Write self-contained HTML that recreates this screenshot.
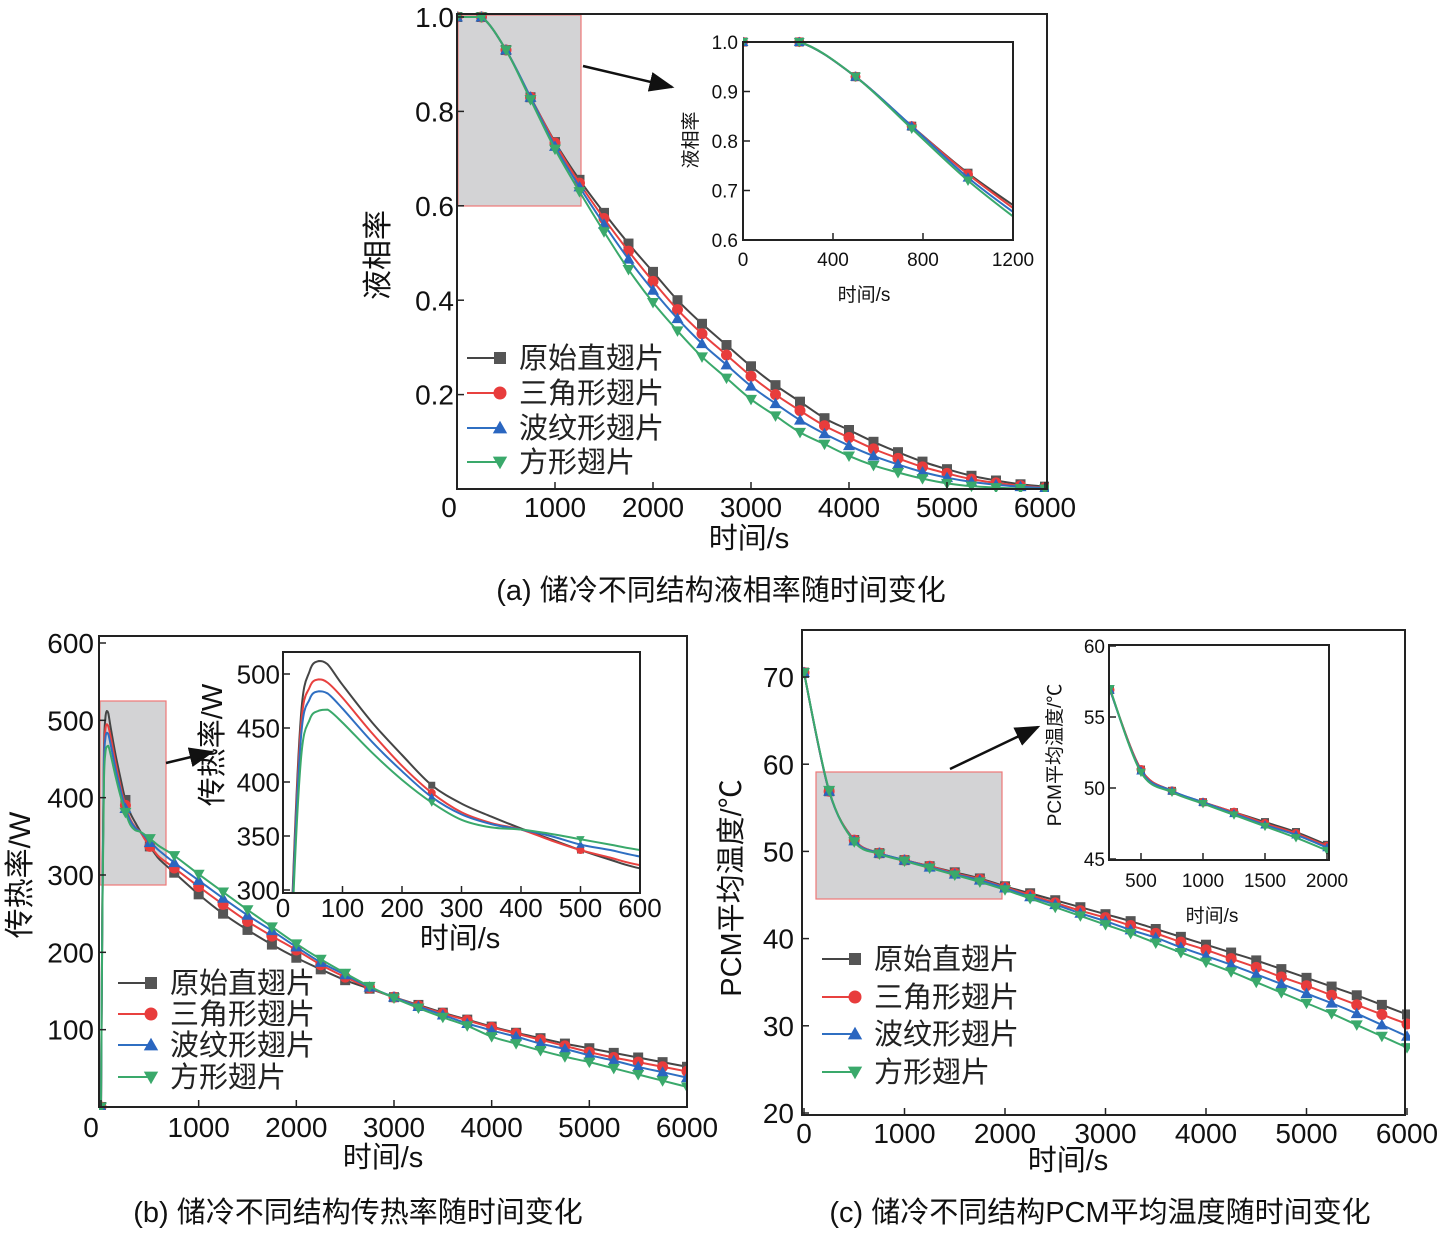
<!DOCTYPE html>
<html><head><meta charset="utf-8">
<style>
html,body{margin:0;padding:0;background:#fff;}
svg{display:block;font-family:"Liberation Sans","Noto Sans CJK SC",sans-serif;}
</style></head>
<body>
<svg id="fig" width="1446" height="1239" viewBox="0 0 1446 1239" xmlns="http://www.w3.org/2000/svg">
<defs>
<clipPath id="clipA"><rect x="457" y="10" width="592" height="482"/></clipPath>
<clipPath id="clipAi"><rect x="743" y="30" width="270" height="211"/></clipPath>
<clipPath id="clipB"><rect x="99" y="630" width="589" height="480"/></clipPath>
<clipPath id="clipBi"><rect x="283" y="652" width="357" height="241"/></clipPath>
<clipPath id="clipC"><rect x="803" y="630" width="607" height="486"/></clipPath>
<clipPath id="clipCi"><rect x="1110" y="645" width="219" height="215"/></clipPath>
<marker id="ah" markerWidth="10" markerHeight="8" refX="9" refY="4" orient="auto"><path d="M0,0 L10,4 L0,8 Z" fill="#111"/></marker>
</defs>
</svg>
<script>
// ---------- Chart (a): liquid fraction ----------
const aTimes=[0,250,500,750,1000,1250,1500,1750,2000,2250,2500,2750,3000,3250,3500,3750,4000,4250,4500,4750,5000,5250,5500,5750,6000];
const aBlack=[1,1,.93,.83,.735,.655,.585,.52,.46,.40,.35,.305,.26,.22,.185,.15,.125,.10,.078,.058,.042,.028,.018,.01,.005];
const aRed=[1,1,.93,.83,.733,.648,.573,.504,.44,.38,.329,.284,.239,.20,.166,.134,.109,.085,.065,.047,.033,.021,.013,.007,.003];
const aBlue=[1,1,.93,.83,.726,.64,.561,.487,.421,.361,.308,.263,.218,.181,.146,.117,.092,.07,.052,.036,.024,.015,.009,.005,.002];
const aGreen=[1,1,.93,.825,.72,.63,.545,.465,.395,.335,.28,.235,.19,.155,.12,.095,.07,.05,.035,.022,.012,.006,.003,.001,0];
const aXTicks=[0,1000,2000,3000,4000,5000,6000];
const aYTicks=[0.2,0.4,0.6,0.8,1.0];
const aiXTicks=[0,400,800,1200];
const aiYTicks=[0.6,0.7,0.8,0.9,1.0];
// ---------- Chart (b): heat transfer rate ----------
const bTimes=[0,15,30,45,60,75,100,150,200,250,300,350,400,450,500,550,600,750,1000,1250,1500,1750,2000,2250,2500,2750,3000,3250,3500,3750,4000,4250,4500,4750,5000,5250,5500,5750,6000];
const bBlack=[0,280,460,503,512,509,490,455,425,397,380,368,357,347,337,328,320,303,275,250,229,210,193,178,164,153,142,132,122,113,104,96,89,82,76,70,64,58,52];
const bRed=[0,275,450,488,495,492,478,445,415,390,372,362,356,346,337,330,323,309,285,262,240,221,203,184,168,154,142,131,121,112,103,95,87,79,71,64,58,52,46];
const bBlue=[0,270,440,477,484,482,468,437,410,386,370,361,356,350,342,337,331,316,293,270,248,228,207,187,171,155,142,130,119,108,99,91,82,75,67,60,52,45,38];
const bGreen=[0,260,420,458,466,467,455,427,402,381,365,358,356,352,347,342,337,325,301,278,255,233,211,191,173,156,141,128,116,105,91,82,73,65,58,50,42,34,26];
const bXTicks=[0,1000,2000,3000,4000,5000,6000];
const bYTicks=[100,200,300,400,500,600];
const biXTicks=[0,100,200,300,400,500,600];
const biYTicks=[300,350,400,450,500];
// ---------- Chart (c): PCM mean temperature ----------
const cTimes=[0,250,500,750,1000,1250,1500,1750,2000,2250,2500,2750,3000,3250,3500,3750,4000,4250,4500,4750,5000,5250,5500,5750,6000];
const cBlack=[70.5,56.9,51.3,49.8,49.0,48.3,47.6,46.9,46.0,45.2,44.4,43.6,42.8,42.0,41.1,40.2,39.3,38.4,37.5,36.5,35.5,34.5,33.5,32.4,31.3];
const cRed=[70.5,56.9,51.3,49.8,49.0,48.3,47.5,46.8,45.9,45.0,44.1,43.2,42.4,41.5,40.6,39.6,38.7,37.7,36.7,35.6,34.6,33.5,32.4,31.3,30.2];
const cBlue=[70.5,56.9,51.2,49.8,49.0,48.2,47.4,46.7,45.8,44.8,43.9,42.9,42.0,41.0,40.1,39.0,38.0,37.0,35.9,34.8,33.7,32.6,31.4,30.1,28.8];
const cGreen=[70.5,57.0,51.1,49.7,48.9,48.1,47.3,46.5,45.6,44.6,43.6,42.6,41.6,40.6,39.5,38.4,37.3,36.2,35.0,33.8,32.6,31.4,30.1,28.8,27.5];
const cXTicks=[0,1000,2000,3000,4000,5000,6000];
const cYTicks=[20,30,40,50,60,70];
const ciXTicks=[500,1000,1500,2000];
const ciYTicks=[45,50,55,60];

const legendNames=['原始直翅片','三角形翅片','波纹形翅片','方形翅片'];
const COLORS=['#454545','#e8413f','#2f6fc2','#3aa96b'];
const MCOL=['#555','#e83c3c','#2a66c0','#3aa96b'];
const KEYS=['black','red','blue','green'];
const SHAPES=['square','circle','up','down'];
const NS='http://www.w3.org/2000/svg';
const svg=document.getElementById('fig');

function el(tag,attrs,parent){const e=document.createElementNS(NS,tag);for(const k in attrs)e.setAttribute(k,attrs[k]);(parent||svg).appendChild(e);return e;}
function txt(s,attrs,parent){const e=el('text',attrs,parent);e.textContent=s;return e;}
function scale(d0,d1,r0,r1){return v=>r0+(v-d0)*(r1-r0)/(d1-d0);}
function clampY(v,a,b){const lo=Math.min(a,b),hi=Math.max(a,b);return Math.max(lo,Math.min(hi,v));}
function smoothPath(pts){
  let d='M'+pts[0][0].toFixed(2)+','+pts[0][1].toFixed(2);
  for(let i=0;i<pts.length-1;i++){
    const p0=pts[i-1]||pts[i],p1=pts[i],p2=pts[i+1],p3=pts[i+2]||p2;
    const c1=[p1[0]+(p2[0]-p0[0])/6,clampY(p1[1]+(p2[1]-p0[1])/6,p1[1],p2[1])];
    const c2=[p2[0]-(p3[0]-p1[0])/6,clampY(p2[1]-(p3[1]-p1[1])/6,p1[1],p2[1])];
    d+=' C'+c1[0].toFixed(2)+','+c1[1].toFixed(2)+' '+c2[0].toFixed(2)+','+c2[1].toFixed(2)+' '+p2[0].toFixed(2)+','+p2[1].toFixed(2);
  }
  return d;
}
function drawMarker(g,shape,x,y,s,col){
  let m;
  if(shape==='square')m=el('rect',{x:x-s/2,y:y-s/2,width:s,height:s,fill:col},g);
  else if(shape==='circle')m=el('circle',{cx:x,cy:y,r:s/2+0.5,fill:col},g);
  else if(shape==='up')m=el('path',{d:`M${x},${y-s*0.6} L${x+s*0.6},${y+s*0.45} L${x-s*0.6},${y+s*0.45}Z`,fill:col},g);
  else m=el('path',{d:`M${x},${y+s*0.6} L${x+s*0.6},${y-s*0.45} L${x-s*0.6},${y-s*0.45}Z`,fill:col},g);
  return m;
}
function chart(c){
  const g=el('g',{});
  
  
  const X=scale(c.xd[0],c.xd[1],c.xr[0],c.xr[1]);
  const Y=scale(c.yd[0],c.yd[1],c.yr[0],c.yr[1]);
  if(c.bg){el('rect',{x:c.box[0],y:c.box[1],width:c.box[2]-c.box[0],height:c.box[3]-c.box[1],fill:'#fff'},g);}
  c.series.forEach((s,i)=>{
    const sg=el('g',{'clip-path':c.clip},g);
    
    
    const pts=[];
    c.t.forEach((t,j)=>{if(t>=c.tmin&&t<=c.tmax)pts.push([X(t),Y(s[j])]);});
    const p=el('path',{d:smoothPath(pts),fill:'none',stroke:COLORS[i],'stroke-width':c.lw},sg);
    
    
    c.t.forEach((t,j)=>{
      if(c.mk(t)&&t>=c.tmin&&t<=c.tmax){
        const m=drawMarker(sg,SHAPES[i],X(t),Y(s[j]),c.ms,MCOL[i]);
        
        
      }
    });
  });
  const bx=el('rect',{x:c.box[0],y:c.box[1],width:c.box[2]-c.box[0],height:c.box[3]-c.box[1],fill:'none',stroke:'#222','stroke-width':c.bw},g);
  
  
  const xa=el('g',{},g);
  
  
  c.xt.forEach(v=>{
    const x=X(v);
    el('line',{x1:x,x2:x,y1:c.box[3],y2:c.box[3]-c.tl,stroke:'#222','stroke-width':1.5},xa);
    const s=c.xfmt?c.xfmt(v):String(v);
    if(s==='')return;
    const t=txt(s,{x:x+(c.xoff||0),y:c.box[3]+c.xly,'font-size':c.fs,'text-anchor':'middle',fill:'#111'},xa);
    
    
  });
  const ya=el('g',{},g);
  
  
  c.yt.forEach(v=>{
    const y=Y(v);
    el('line',{x1:c.box[0],x2:c.box[0]+c.tl,y1:y,y2:y,stroke:'#222','stroke-width':1.5},ya);
    const t=txt(c.yfmt?c.yfmt(v):String(v),{x:c.box[0]-c.ylx,y:y+c.fs*0.36,'font-size':c.fs,'text-anchor':'end',fill:'#111'},ya);
    
    
  });
  return g;
}
function legend(name,x,ys,fs){
  const g=el('g',{});
  
  
  ys.forEach((y,i)=>{
    const e=el('g',{},g);
    
    
    el('line',{x1:x,x2:x+34,y1:y,y2:y,stroke:COLORS[i],'stroke-width':2},e);
    drawMarker(e,SHAPES[i],x+33,y,12,MCOL[i]);
    txt(legendNames[i],{x:x+52,y:y+10,'font-size':fs,fill:'#222'},e);
  });
}
function label(s,x,y,fs,rot,name){
  const a={x:x,y:y,'font-size':fs,'text-anchor':'middle',fill:'#111'};
  if(rot)a.transform=`rotate(-90 ${x} ${y})`;
  const t=txt(s,a);
  
  
}
const m250=t=>t%250===0;

// ===== (a) =====
(function(){const r=el('rect',{x:458,y:15,width:123,height:191,fill:'#d3d3d5',stroke:'#e77','stroke-width':1.2});
})();
chart({name:'chart-a',xd:[0,6000],xr:[457,1045],yd:[0,1],yr:[489,17],box:[457,14,1047,489],
  t:aTimes,series:[aBlack,aRed,aBlue,aGreen],tmin:0,tmax:6000,mk:m250,ms:10,lw:2,bw:2,
  xt:aXTicks,xfmt:v=>v===0?'':String(v),yt:aYTicks,yfmt:v=>v.toFixed(1),fs:28,tl:7,xly:28,ylx:3,clip:'url(#clipA)'});
txt('0',{x:449,y:517,'font-size':28,'text-anchor':'middle',fill:'#111'});
const arA=el('line',{x1:583,y1:66,x2:672,y2:87,stroke:'#111','stroke-width':2.5,'marker-end':'url(#ah)'});

chart({name:'chart-a-inset',bg:true,xd:[0,1200],xr:[743,1013],yd:[0.6,1.0],yr:[240,42],box:[743,42,1013,240],
  t:aTimes,series:[aBlack,aRed,aBlue,aGreen],tmin:0,tmax:1250,mk:m250,ms:9,lw:2,bw:2,
  xt:aiXTicks,yt:aiYTicks,yfmt:v=>v.toFixed(1),fs:19,tl:7,xly:26,ylx:5,clip:'url(#clipAi)'});
legend('legend-a',467,[358,393,428,462],29);
label('液相率',388,255,30,true,'y-axis-title-a');
label('时间/s',749,548,29,false,'x-axis-title-a');
label('液相率',697,140,19,true,'inset-y-title-a');
label('时间/s',864,301,19,false,'inset-x-title-a');
label('(a) 储冷不同结构液相率随时间变化',721,600,29,false,'caption-a');

// ===== (b) =====
(function(){const r=el('rect',{x:100,y:701,width:66,height:184,fill:'#d3d3d5',stroke:'#e77','stroke-width':1.2});
})();
chart({name:'chart-b',xd:[0,6000],xr:[101,687],yd:[0,600],yr:[1107,643],box:[99,636,687,1107],
  t:bTimes,series:[bBlack,bRed,bBlue,bGreen],tmin:0,tmax:6000,mk:m250,ms:10,lw:2,bw:2,
  xt:bXTicks,xfmt:v=>v===0?'':String(v),yt:bYTicks,fs:28,tl:7,xly:30,ylx:5,clip:'url(#clipB)'});
txt('0',{x:91,y:1137,'font-size':28,'text-anchor':'middle',fill:'#111'});
const arB=el('line',{x1:166,y1:763,x2:212,y2:752,stroke:'#111','stroke-width':2.5,'marker-end':'url(#ah)'});

chart({name:'chart-b-inset',bg:true,xd:[0,600],xr:[283,640],yd:[300,500],yr:[890,674],box:[283,652,640,893],
  t:bTimes,series:[bBlack,bRed,bBlue,bGreen],tmin:0,tmax:750,mk:t=>t===250||t===500,ms:7,lw:2,bw:2,
  xt:biXTicks,yt:biYTicks,fs:26,tl:7,xly:24,ylx:3,clip:'url(#clipBi)'});
legend('legend-b',118,[983,1014,1045,1077],29);
label('传热率/W',30,875,30,true,'y-axis-title-b');
label('时间/s',383,1167,29,false,'x-axis-title-b');
label('传热率/W',222,745,29,true,'inset-y-title-b');
label('时间/s',460,948,29,false,'inset-x-title-b');
label('(b) 储冷不同结构传热率随时间变化',358,1222,29,false,'caption-b');

// ===== (c) =====
(function(){const r=el('rect',{x:816,y:772,width:186,height:127,fill:'#d3d3d5',stroke:'#e77','stroke-width':1.2});
})();
chart({name:'chart-c',xd:[0,6000],xr:[804,1407],yd:[20,70],yr:[1113,677],box:[802,630,1405,1115],
  t:cTimes,series:[cBlack,cRed,cBlue,cGreen],tmin:0,tmax:6000,mk:m250,ms:10,lw:2,bw:2,
  xt:cXTicks,yt:cYTicks,fs:28,tl:7,xly:28,ylx:8,clip:'url(#clipC)'});
const arC=el('line',{x1:950,y1:769,x2:1038,y2:727,stroke:'#111','stroke-width':2.5,'marker-end':'url(#ah)'});

chart({name:'chart-c-inset',bg:true,xd:[250,2000],xr:[1110,1327],yd:[45,60],yr:[859,646],box:[1109,645,1329,860],
  t:cTimes,series:[cBlack,cRed,cBlue,cGreen],tmin:250,tmax:2000,mk:m250,ms:8,lw:2,bw:2,
  xt:ciXTicks,yt:ciYTicks,fs:19,tl:7,xly:27,ylx:4,clip:'url(#clipCi)'});
legend('legend-c',822,[959,997,1034,1072],29);
label('PCM平均温度/℃',741,888,29,true,'y-axis-title-c');
label('时间/s',1068,1170,29,false,'x-axis-title-c');
label('PCM平均温度/℃',1061,755,19,true,'inset-y-title-c');
label('时间/s',1212,922,19,false,'inset-x-title-c');
label('(c) 储冷不同结构PCM平均温度随时间变化',1100,1222,29,false,'caption-c');
</script>
</body></html>
